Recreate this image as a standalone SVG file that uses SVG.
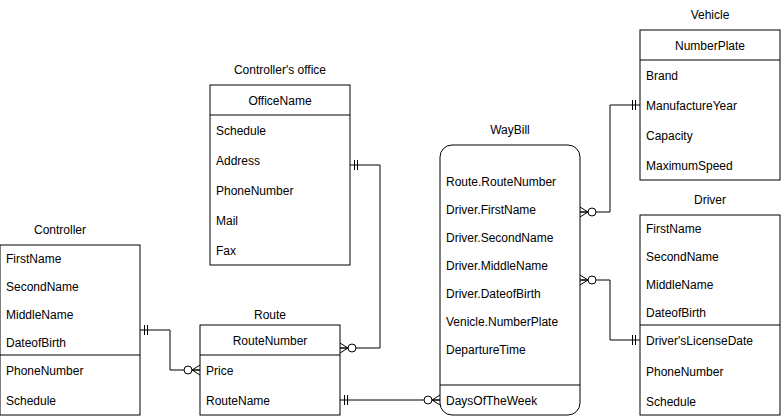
<svg xmlns="http://www.w3.org/2000/svg" width="781" height="416" viewBox="0 0 781 416">
<style>
text{font-family:"Liberation Sans",Arial,sans-serif;font-size:12px;fill:#000}
.t{text-anchor:middle}
.box{fill:#fff;stroke:#000;stroke-width:1}
.ln{fill:none;stroke:#000;stroke-width:1}
.c{fill:none;stroke:#000;stroke-width:1}
</style>
<defs>
<marker id="many0" markerUnits="userSpaceOnUse" orient="auto-start-reverse" viewBox="-20 -10 21 20" refX="0" refY="0" markerWidth="21" markerHeight="20" overflow="visible">
<path d="M0,-5 L-8,0 L0,5 M-8,0 L0,0" fill="none" stroke="#000" stroke-width="1"/>
<circle cx="-12" cy="0" r="4" fill="#fff" stroke="#000" stroke-width="1"/>
</marker>
<marker id="one" markerUnits="userSpaceOnUse" orient="auto-start-reverse" viewBox="-20 -10 21 20" refX="0" refY="0" markerWidth="21" markerHeight="20" overflow="visible">
<path d="M-4.5,-5 L-4.5,5 M-7.5,-5 L-7.5,5" fill="none" stroke="#000" stroke-width="1"/>
</marker>
</defs>
<rect width="781" height="416" fill="#fff"/>

<g id="connectors">
<path class="c" d="M350,165 L380,165 L380,348 L340,348" marker-start="url(#one)" marker-end="url(#many0)"/>
<path class="c" d="M140,330 L170,330 L170,370 L200,370" marker-start="url(#one)" marker-end="url(#many0)"/>
<path class="c" d="M340,400 L440,400" marker-start="url(#one)" marker-end="url(#many0)"/>
<path class="c" d="M640,105 L610,105 L610,212 L580,212" marker-start="url(#one)" marker-end="url(#many0)"/>
<path class="c" d="M640,340 L610,340 L610,280 L580,280" marker-start="url(#one)" marker-end="url(#many0)"/>
</g>

<g id="vehicle">
<text class="t" x="710" y="19">Vehicle</text>
<rect class="box" x="640" y="30" width="140" height="150"/>
<line class="ln" x1="640" y1="60" x2="780" y2="60"/>
<text class="t" x="710" y="50">NumberPlate</text>
<text x="646" y="80">Brand</text>
<text x="646" y="110">ManufactureYear</text>
<text x="646" y="140">Capacity</text>
<text x="646" y="170">MaximumSpeed</text>
</g>

<g id="driver">
<text class="t" x="710" y="204">Driver</text>
<rect class="box" x="640" y="215" width="140" height="200"/>
<line class="ln" x1="640" y1="325" x2="780" y2="325"/>
<text x="646" y="233">FirstName</text>
<text x="646" y="261">SecondName</text>
<text x="646" y="289">MiddleName</text>
<text x="646" y="317">DateofBirth</text>
<text x="646" y="345">Driver'sLicenseDate</text>
<text x="646" y="376">PhoneNumber</text>
<text x="646" y="406">Schedule</text>
</g>

<g id="office">
<text class="t" x="280" y="74">Controller's office</text>
<rect class="box" x="210" y="85" width="140" height="180"/>
<line class="ln" x1="210" y1="115" x2="350" y2="115"/>
<text class="t" x="280" y="105">OfficeName</text>
<text x="216" y="135">Schedule</text>
<text x="216" y="165">Address</text>
<text x="216" y="195">PhoneNumber</text>
<text x="216" y="225">Mail</text>
<text x="216" y="255">Fax</text>
</g>

<g id="route">
<text class="t" x="270" y="319">Route</text>
<rect class="box" x="200" y="325" width="140" height="90"/>
<line class="ln" x1="200" y1="355" x2="340" y2="355"/>
<text class="t" x="270" y="345">RouteNumber</text>
<text x="206" y="375">Price</text>
<text x="206" y="405">RouteName</text>
</g>

<g id="controller">
<text class="t" x="60" y="234">Controller</text>
<rect class="box" x="0" y="245" width="140" height="170"/>
<line class="ln" x1="0" y1="355" x2="140" y2="355"/>
<text x="6" y="263">FirstName</text>
<text x="6" y="291">SecondName</text>
<text x="6" y="319">MiddleName</text>
<text x="6" y="347">DateofBirth</text>
<text x="6" y="375">PhoneNumber</text>
<text x="6" y="405">Schedule</text>
</g>

<g id="waybill">
<text class="t" x="510" y="134">WayBill</text>
<rect class="box" x="440" y="145" width="140" height="270" rx="12" ry="12"/>
<line class="ln" x1="440" y1="385" x2="580" y2="385"/>
<text x="446" y="186">Route.RouteNumber</text>
<text x="446" y="214">Driver.FirstName</text>
<text x="446" y="242">Driver.SecondName</text>
<text x="446" y="270">Driver.MiddleName</text>
<text x="446" y="298">Driver.DateofBirth</text>
<text x="446" y="326">Venicle.NumberPlate</text>
<text x="446" y="354">DepartureTime</text>
<text x="446" y="405">DaysOfTheWeek</text>
</g>
</svg>
